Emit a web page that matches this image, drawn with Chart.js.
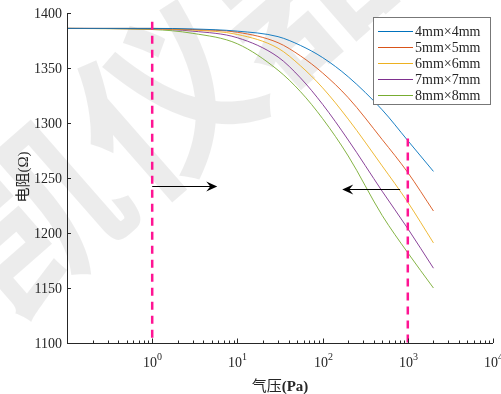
<!DOCTYPE html>
<html>
<head>
<meta charset="utf-8">
<script src="https://cdn.jsdelivr.net/npm/chart.js@4.4.1/dist/chart.umd.min.js"></script>
<style>
    html, body { margin: 0; padding: 0; background: #fff; }
    #wrap { width: 501px; height: 394px; }
</style>
</head>
<body>
<div id="wrap"><canvas id="chart" width="501" height="394"></canvas></div>
<script>
// pressure (Pa) sampled along the curves
const pressure = [0.1, 1, 3, 10, 30, 55, 100, 200, 500, 1000, 2000];

const r4mm = [1386, 1386, 1385.5, 1383.5, 1378.5, 1370.5, 1359.5, 1342, 1312, 1284, 1256];
const r5mm = [1386, 1386, 1385, 1382.5, 1373, 1361, 1345.5, 1323, 1285, 1255, 1220];
const r6mm = [1386, 1385.5, 1384.5, 1380.5, 1368, 1352, 1332, 1303.5, 1261, 1228, 1191];
const r7mm = [1386, 1385.5, 1383.5, 1377.5, 1360, 1341, 1317, 1284.5, 1238, 1204, 1168];
const r8mm = [1386, 1385, 1381.5, 1372, 1348, 1328.5, 1304, 1270, 1216, 1182, 1150];

const seriesNames = ["4mm×4mm", "5mm×5mm", "6mm×6mm", "7mm×7mm", "8mm×8mm"];
const seriesColors = ["#0072BD", "#D95319", "#EDB120", "#7E2F8E", "#77AC30"];

const yTicks = [1100, 1150, 1200, 1250, 1300, 1350, 1400];
const xMajor = [1, 10, 100, 1000, 10000];
const xExponents = ["0", "1", "2", "3", "4"];

// dashed markers and arrows (data units)
const markerX = [1, 1000];
const markerTop = [1392, 1286];
const arrowRight = { from: [1, 1243], to: [5.8, 1243] };
const arrowLeft = { from: [813, 1240], to: [170, 1240] };

const AXIS = "#262626";
const SERIF = "'Liberation Serif', 'Times New Roman', serif";
const CJK = "'Noto Sans CJK SC', sans-serif";

const toPoints = (vals) => pressure.map((p, i) => ({ x: p, y: vals[i] }));

const curveDataset = (vals, idx) => ({
    label: seriesNames[idx],
    data: toPoints(vals),
    borderColor: seriesColors[idx],
    borderWidth: 0.9,
    pointRadius: 0,
    fill: false,
    cubicInterpolationMode: "monotone",
    order: 2,
});

const markerDataset = (idx) => ({
    label: "marker" + idx,
    data: [
        { x: markerX[idx], y: markerTop[idx] },
        { x: markerX[idx], y: 1097 },
    ],
    borderColor: "#FF1493",
    borderWidth: 2.5,
    borderDash: [8, 6],
    pointRadius: 0,
    fill: false,
    order: 1,
});

const drawArrow = (ctx, x0, y0, x1, y1) => {
    const dir = Math.sign(x1 - x0);
    ctx.strokeStyle = "#000";
    ctx.fillStyle = "#000";
    ctx.lineWidth = 1;
    ctx.beginPath();
    ctx.moveTo(x0, y0);
    ctx.lineTo(x1 - dir * 6, y1);
    ctx.stroke();
    ctx.beginPath();
    ctx.moveTo(x1, y1);
    ctx.lineTo(x1 - dir * 11, y1 - 5);
    ctx.lineTo(x1 - dir * 7, y1);
    ctx.lineTo(x1 - dir * 11, y1 + 5);
    ctx.closePath();
    ctx.fill();
};

const decorPlugin = {
    id: "decor",
    beforeDatasetsDraw(chart) {
        const ctx = chart.ctx;
        // watermark
        ctx.save();
        ctx.translate(165, 100);
        ctx.rotate(-0.72);
        ctx.font = "bold 175px " + CJK;
        ctx.fillStyle = "rgba(0,0,0,0.075)";
        ctx.textAlign = "center";
        ctx.textBaseline = "middle";
        ctx.fillText("凯仪器", 0, 0);
        ctx.restore();
    },
    afterDatasetsDraw(chart) {
        const ctx = chart.ctx;
        const xs = chart.scales.x;
        const ys = chart.scales.y;
        const area = chart.chartArea;

        ctx.save();
        // axes
        ctx.strokeStyle = AXIS;
        ctx.lineWidth = 1;
        ctx.beginPath();
        ctx.moveTo(area.left + 0.5, area.top);
        ctx.lineTo(area.left + 0.5, area.bottom + 0.5);
        ctx.lineTo(area.right, area.bottom + 0.5);
        ctx.stroke();

        // y ticks
        ctx.font = "14px " + SERIF;
        ctx.fillStyle = AXIS;
        ctx.textAlign = "right";
        ctx.textBaseline = "middle";
        yTicks.forEach((v) => {
            const y = Math.round(ys.getPixelForValue(v)) + 0.5;
            ctx.beginPath();
            ctx.moveTo(area.left, y);
            ctx.lineTo(area.left + 4, y);
            ctx.stroke();
            ctx.fillText(String(v), area.left - 5, y + 1);
        });

        // x ticks, minor then major
        for (let dec = 0.1; dec < 10000; dec *= 10) {
            for (let m = 2; m <= 9; m++) {
                const x = Math.round(xs.getPixelForValue(dec * m)) + 0.5;
                ctx.beginPath();
                ctx.moveTo(x, area.bottom);
                ctx.lineTo(x, area.bottom - 2.5);
                ctx.stroke();
            }
        }
        xMajor.forEach((v, i) => {
            const x = Math.round(xs.getPixelForValue(v)) + 0.5;
            ctx.beginPath();
            ctx.moveTo(x, area.bottom);
            ctx.lineTo(x, area.bottom - 4.5);
            ctx.stroke();
            ctx.font = "14px " + SERIF;
            const wBase = ctx.measureText("10").width;
            ctx.font = "10px " + SERIF;
            const wExp = ctx.measureText(xExponents[i]).width;
            const left = x - (wBase + wExp) / 2;
            ctx.textAlign = "left";
            ctx.textBaseline = "alphabetic";
            ctx.font = "14px " + SERIF;
            ctx.fillText("10", left, 367);
            ctx.font = "10px " + SERIF;
            ctx.fillText(xExponents[i], left + wBase, 360);
        });

        // axis titles
        ctx.textBaseline = "alphabetic";
        ctx.font = "15px " + CJK;
        const wCn = ctx.measureText("气压").width;
        ctx.font = "bold 15px " + SERIF;
        const wPa = ctx.measureText("(Pa)").width;
        const tx = 280 - (wCn + wPa) / 2;
        ctx.textAlign = "left";
        ctx.font = "15px " + CJK;
        ctx.fillText("气压", tx, 391);
        ctx.font = "bold 15px " + SERIF;
        ctx.fillText("(Pa)", tx + wCn, 391);

        ctx.save();
        ctx.translate(28, 177);
        ctx.rotate(-Math.PI / 2);
        ctx.font = "15px " + CJK;
        const wDz = ctx.measureText("电阻").width;
        ctx.font = "15px " + SERIF;
        const wOm = ctx.measureText("(Ω)").width;
        ctx.textAlign = "left";
        ctx.font = "15px " + CJK;
        ctx.fillText("电阻", -(wDz + wOm) / 2, 0);
        ctx.font = "15px " + SERIF;
        ctx.fillText("(Ω)", -(wDz + wOm) / 2 + wDz, 0);
        ctx.restore();

        // arrows
        [arrowRight, arrowLeft].forEach((a) => {
            drawArrow(
                ctx,
                xs.getPixelForValue(a.from[0]),
                Math.round(ys.getPixelForValue(a.from[1])) + 0.5,
                xs.getPixelForValue(a.to[0]),
                Math.round(ys.getPixelForValue(a.to[1])) + 0.5
            );
        });

        // legend box
        ctx.fillStyle = "#fff";
        ctx.fillRect(373.5, 17.5, 117, 87);
        ctx.strokeStyle = "#777";
        ctx.strokeRect(373.5, 17.5, 117, 87);
        ctx.font = "14px " + SERIF;
        ctx.textAlign = "left";
        ctx.textBaseline = "middle";
        seriesNames.forEach((name, i) => {
            const y = 31 + i * 16;
            ctx.strokeStyle = seriesColors[i];
            ctx.beginPath();
            ctx.moveTo(378, y + 0.5);
            ctx.lineTo(413, y + 0.5);
            ctx.stroke();
            ctx.fillStyle = AXIS;
            ctx.fillText(name, 415, y + 1);
        });
        ctx.restore();
    },
};

new Chart(document.getElementById("chart"), {
    type: "line",
    data: {
        datasets: [
            curveDataset(r4mm, 0),
            curveDataset(r5mm, 1),
            curveDataset(r6mm, 2),
            curveDataset(r7mm, 3),
            curveDataset(r8mm, 4),
            markerDataset(0),
            markerDataset(1),
        ],
    },
    options: {
        responsive: false,
        animation: false,
        layout: {
            padding: { left: 67, right: 8, top: 13, bottom: 51 },
        },
        plugins: {
            legend: { display: false },
            tooltip: { enabled: false },
        },
        scales: {
            x: {
                type: "logarithmic",
                min: 0.1,
                max: 10000,
                display: false,
            },
            y: {
                type: "linear",
                min: 1100,
                max: 1400,
                display: false,
            },
        },
    },
    plugins: [decorPlugin],
});
</script>
</body>
</html>
